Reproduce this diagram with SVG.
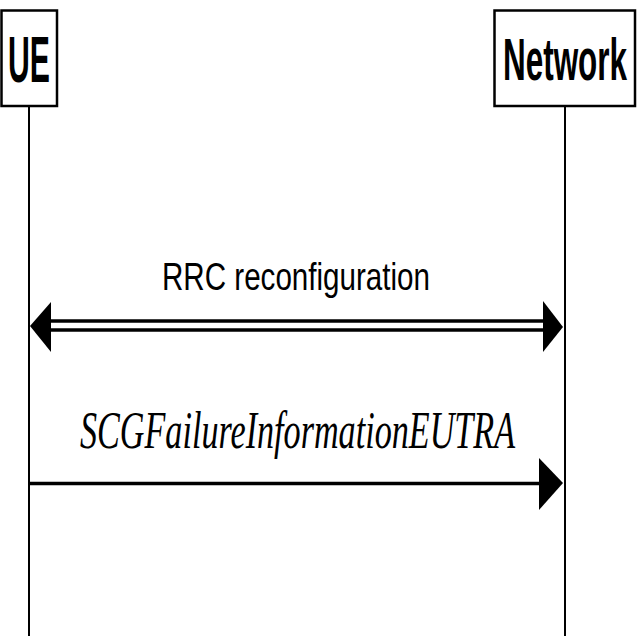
<svg xmlns="http://www.w3.org/2000/svg" width="640" height="640" viewBox="0 0 640 640">
  <style>
    .box { fill: #fff; stroke: #000; stroke-width: 2.5; }
    .life { stroke: #000; stroke-width: 2; fill: none; }
    .msg { stroke: #000; stroke-width: 3.5; fill: none; }
    .head { fill: #000; stroke: none; }
    .hdr { font-family: "Liberation Sans", Arial, sans-serif; font-weight: bold; font-size: 30px; fill: #000; }
    .lbl { font-family: "Liberation Sans", Arial, sans-serif; font-size: 30px; fill: #000; }
    .ital { font-family: "Liberation Serif", "Times New Roman", serif; font-style: italic; font-size: 34px; fill: #000; }
  </style>
  <rect width="640" height="640" fill="#fff"/>
  <g id="UE">
    <rect class="box" x="1.5" y="10.5" width="55.5" height="95.5"/>
    <g transform="translate(29,82) scale(1,2.15)">
      <text class="hdr" x="0" y="0" text-anchor="middle" textLength="42" lengthAdjust="spacingAndGlyphs">UE</text>
    </g>
    <line class="life" x1="29" y1="106" x2="29" y2="636"/>
  </g>
  <g id="Network">
    <rect class="box" x="494.5" y="10.5" width="140.5" height="95.5"/>
    <g transform="translate(565,80) scale(1,2.0)">
      <text class="hdr" x="0" y="0" text-anchor="middle" textLength="124" lengthAdjust="spacingAndGlyphs">Network</text>
    </g>
    <line class="life" x1="565" y1="106" x2="565" y2="636"/>
  </g>
  <g id="connectors">
    <g id="rrc">
      <line class="msg" x1="48" y1="321" x2="546" y2="321"/>
      <line class="msg" x1="48" y1="330" x2="546" y2="330"/>
      <polygon class="head" points="30,326 51,302 51,352"/>
      <polygon class="head" points="563,327 543,301 543,352"/>
      <g transform="translate(296,290) scale(1,1.27)">
        <text class="lbl" x="0" y="0" text-anchor="middle" textLength="268" lengthAdjust="spacingAndGlyphs">RRC reconfiguration</text>
      </g>
    </g>
    <g id="scg">
      <line class="msg" x1="29" y1="483.5" x2="545" y2="483.5"/>
      <polygon class="head" points="563,483 539,458 539,510"/>
      <g transform="translate(80,448) scale(1,1.55)">
        <text class="ital" x="0" y="0" textLength="435" lengthAdjust="spacingAndGlyphs">SCGFailureInformationEUTRA</text>
      </g>
    </g>
  </g>
</svg>
